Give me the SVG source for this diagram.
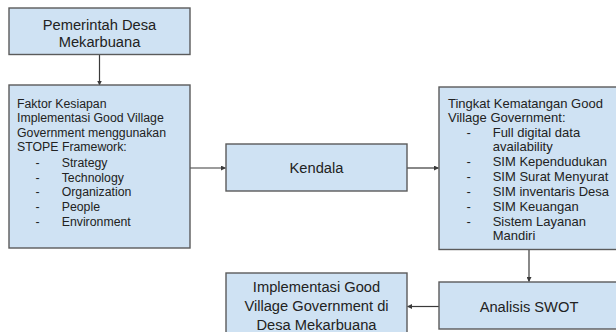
<svg xmlns="http://www.w3.org/2000/svg" width="616" height="332" viewBox="0 0 616 332">
<defs>
<style>
.box{fill:#cfe2f3;stroke:#5b5b5b;stroke-width:1.4}
.t{font-family:"Liberation Sans",Arial,sans-serif;fill:#222}
.c{text-anchor:middle;font-size:14.7px}
.s{font-size:12.3px}
.r{font-size:13px}
.ln{stroke:#3a3a3a;stroke-width:1.2;fill:none;marker-end:url(#ah)}
</style>
<marker id="ah" viewBox="0 0 10 10" refX="9" refY="5" markerWidth="5" markerHeight="5" markerUnits="userSpaceOnUse" orient="auto">
<path d="M0,0 L10,5 L0,10 z" fill="#3a3a3a"/>
</marker>
</defs>
<rect width="616" height="332" fill="#ffffff"/>
<g id="connectors">
<line class="ln" x1="99.5" y1="55" x2="99.5" y2="85"/>
<line class="ln" x1="190" y1="168" x2="225.5" y2="168"/>
<line class="ln" x1="407" y1="168" x2="438.5" y2="168"/>
<line class="ln" x1="529" y1="250" x2="529" y2="281.5"/>
<line class="ln" x1="439" y1="306.5" x2="407.5" y2="306.5"/>
</g>
<g id="pemerintah">
<rect class="box" x="9" y="8" width="181" height="46.5"/>
<text class="t c" x="99.5" y="30">Pemerintah Desa</text>
<text class="t c" x="99.5" y="46.5">Mekarbuana</text>
</g>
<g id="faktor">
<rect class="box" x="9" y="85" width="181" height="163"/>
<text class="t s" x="17" y="108">Faktor Kesiapan</text>
<text class="t s" x="17" y="122.3">Implementasi Good Village</text>
<text class="t s" x="17" y="136.5">Government menggunakan</text>
<text class="t s" x="17" y="150.7">STOPE Framework:</text>
<g class="t s">
<text x="35.5" y="166.7">-</text><text x="61.7" y="166.7">Strategy</text>
<text x="35.5" y="181.7">-</text><text x="61.7" y="181.7">Technology</text>
<text x="35.5" y="196.3">-</text><text x="61.7" y="196.3">Organization</text>
<text x="35.5" y="211.3">-</text><text x="61.7" y="211.3">People</text>
<text x="35.5" y="226.3">-</text><text x="61.7" y="226.3">Environment</text>
</g>
</g>
<g id="kendala">
<rect class="box" x="226" y="144" width="181" height="47"/>
<text class="t c" x="316.5" y="173">Kendala</text>
</g>
<g id="tingkat">
<rect class="box" x="439" y="87" width="181" height="162.5"/>
<text class="t r" x="448" y="108">Tingkat Kematangan Good</text>
<text class="t r" x="448" y="121.5">Village Government:</text>
<g class="t r">
<text x="466.5" y="136.5">-</text><text x="492.7" y="136.5">Full digital data</text>
<text x="492.7" y="150.8">availability</text>
<text x="466.5" y="165.8">-</text><text x="492.7" y="165.8">SIM Kependudukan</text>
<text x="466.5" y="180.8">-</text><text x="492.7" y="180.8">SIM Surat Menyurat</text>
<text x="466.5" y="196.3">-</text><text x="492.7" y="196.3">SIM inventaris Desa</text>
<text x="466.5" y="211.3">-</text><text x="492.7" y="211.3">SIM Keuangan</text>
<text x="466.5" y="225.8">-</text><text x="492.7" y="225.8">Sistem Layanan</text>
<text x="492.7" y="240.2">Mandiri</text>
</g>
</g>
<g id="swot">
<rect class="box" x="439" y="282" width="181" height="47"/>
<text class="t c" x="529" y="311.5">Analisis SWOT</text>
</g>
<g id="implementasi">
<rect class="box" x="226" y="273" width="181" height="70"/>
<text class="t c" x="316.5" y="292">Implementasi Good</text>
<text class="t c" x="316.5" y="311">Village Government di</text>
<text class="t c" x="316.5" y="329.5">Desa Mekarbuana</text>
</g>
</svg>
